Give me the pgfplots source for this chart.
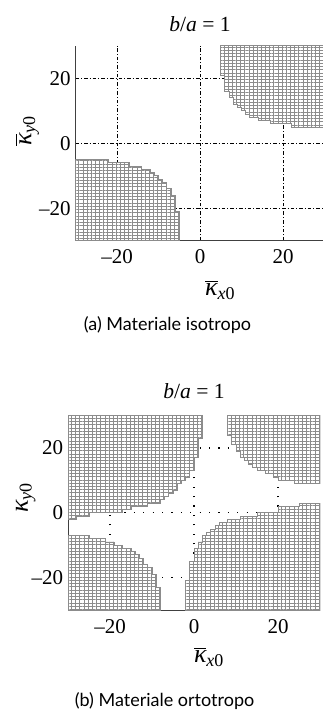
\documentclass[border=0pt]{standalone}
\usepackage{fontspec}
\setmainfont{Liberation Serif}
\newfontfamily\lato{Lato}
\usepackage{pgfplots}
\pgfplotsset{compat=1.18}
\usetikzlibrary{patterns.meta}
\definecolor{cellgray}{RGB}{140,140,140}

\pgfplotsset{
  every axis title shift=0pt,
  region/.style 2 args={const plot, fill=white, draw=cellgray, line width=0.45pt,
    postaction={pattern={Lines[angle=90,distance=#1,line width=0.45pt]}, pattern color=cellgray},
    postaction={pattern={Lines[angle=0,distance=#2,line width=0.45pt]}, pattern color=cellgray}},
  myaxis/.style={scale only axis, xmin=-30, xmax=30, ymin=-30, ymax=30,
    axis x line=bottom, axis y line=left,
    axis line style={-, line width=0.4pt, black!75},
    xtick={-20,0,20}, ytick={-20,0,20},
    xticklabels={–20,0,20}, yticklabels={–20,0,20},
    major tick length=0pt, grid=major,
    tick label style={font=\fontsize{10.5}{12}\selectfont},
    xticklabel style={anchor=base, yshift=-11.5pt},
    yticklabel style={anchor=east, inner sep=0pt, xshift=-2.2pt},
    title style={font=\fontsize{10.8}{12}\selectfont},
    label style={font=\fontsize{13}{14}\selectfont},
  }
}

\begin{document}
\begin{tikzpicture}
\path[use as bounding box] (0pt,0pt) rectangle (161pt,-355pt);

% (a) isotropic
\begin{axis}[myaxis, width=124.5pt, height=97.5pt,
  at={(100pt,-71.65pt)}, anchor=center,
  major grid style={black, line width=0.4pt, dash pattern=on 1.8pt off 1pt on 0.5pt off 1pt},
  title={\textit{b}/\textit{a} = 1},
  title style={at={(axis description cs:0.5,1.072)}, anchor=base},
  xlabel={\(\overline{\mbox{\itshape κ}}_{\mbox{\fontsize{9}{9}\selectfont\itshape x\upshape 0}}\)},
  xlabel style={at={(axis description cs:0.492,-0.283)}, anchor=base west},
  ylabel={\(\overline{\mbox{\itshape κ}}_{\mbox{\fontsize{9}{9}\selectfont\itshape y\upshape 0}}\)},
  ylabel style={at={(axis description cs:-0.177,0.45)}, anchor=base west},
]
\addplot[region={2.075pt}{1.625pt}] coordinates {
 (-30,-30) (-30,-5) (-22,-6) (-17,-7) (-14,-8) (-12,-9) (-11,-10) (-10,-11)
 (-9,-12) (-8,-14) (-7,-16) (-6,-21) (-5,-30)} -- cycle;
\addplot[region={2.075pt}{1.625pt}] coordinates {
 (5,30) (5,21) (6,16) (7,14) (8,12) (9,11) (10,10) (11,9) (12,8) (14,7)
 (17,6) (22,5) (30,5) (30,30)} -- cycle;
\end{axis}

% (b) orthotropic
\begin{axis}[myaxis, width=126pt, height=97.25pt,
  at={(97pt,-256.4pt)}, anchor=center,
  major grid style={black, line width=0.6pt, dash pattern=on 0.6pt off 4.1pt},
  title={\textit{b}/\textit{a} = 1},
  title style={at={(axis description cs:0.5,1.09)}, anchor=base},
  xlabel={\(\overline{\mbox{\itshape κ}}_{\mbox{\fontsize{9}{9}\selectfont\itshape x\upshape 0}}\)},
  xlabel style={at={(axis description cs:0.472,-0.272)}, anchor=base west},
  ylabel={\(\mbox{\itshape κ}_{\mbox{\fontsize{9}{9}\selectfont\itshape y\upshape 0}}\)},
  ylabel style={at={(axis description cs:-0.159,0.463)}, anchor=base west},
]
\addplot[region={2.1pt}{1.62pt}] coordinates {
 (-30,30) (-30,-2) (-28,-1) (-25,0) (-17,1) (-15,2) (-11,3) (-8,4) (-7,5)
 (-6,6) (-5,7) (-4,9) (-3,10) (-2,11) (-1,13) (0,17) (1,23) (2,30)} -- cycle;
\addplot[region={2.1pt}{1.62pt}] coordinates {
 (8,30) (8,24) (9,21) (10,19) (11,17) (12,16) (13,15) (14,14) (15,13)
 (17,12) (19,11) (20,10) (24,9) (30,9) (30,30)} -- cycle;
\addplot[region={2.1pt}{1.62pt}] coordinates {
 (-30,-30) (-30,-7) (-25,-8) (-21,-9) (-19,-10) (-17,-11) (-15,-12) (-14,-13)
 (-13,-14) (-12,-16) (-11,-17) (-10,-19) (-9,-23) (-8,-30)} -- cycle;
\addplot[region={2.1pt}{1.62pt}] coordinates {
 (-2,-30) (-2,-21) (-1,-15) (0,-11) (1,-9) (2,-7) (3,-6) (4,-5) (5,-4)
 (6,-3) (8,-2) (11,-1) (15,0) (20,2) (25,3) (30,-30)} -- cycle;
\end{axis}

\node[font=\lato\fontsize{9}{11}\selectfont, anchor=base] at (83.75pt,-165pt) {(a) Materiale isotropo};
\node[font=\lato\fontsize{9}{11}\selectfont, anchor=base] at (82.25pt,-353pt) {(b) Materiale ortotropo};
\end{tikzpicture}
\end{document}
